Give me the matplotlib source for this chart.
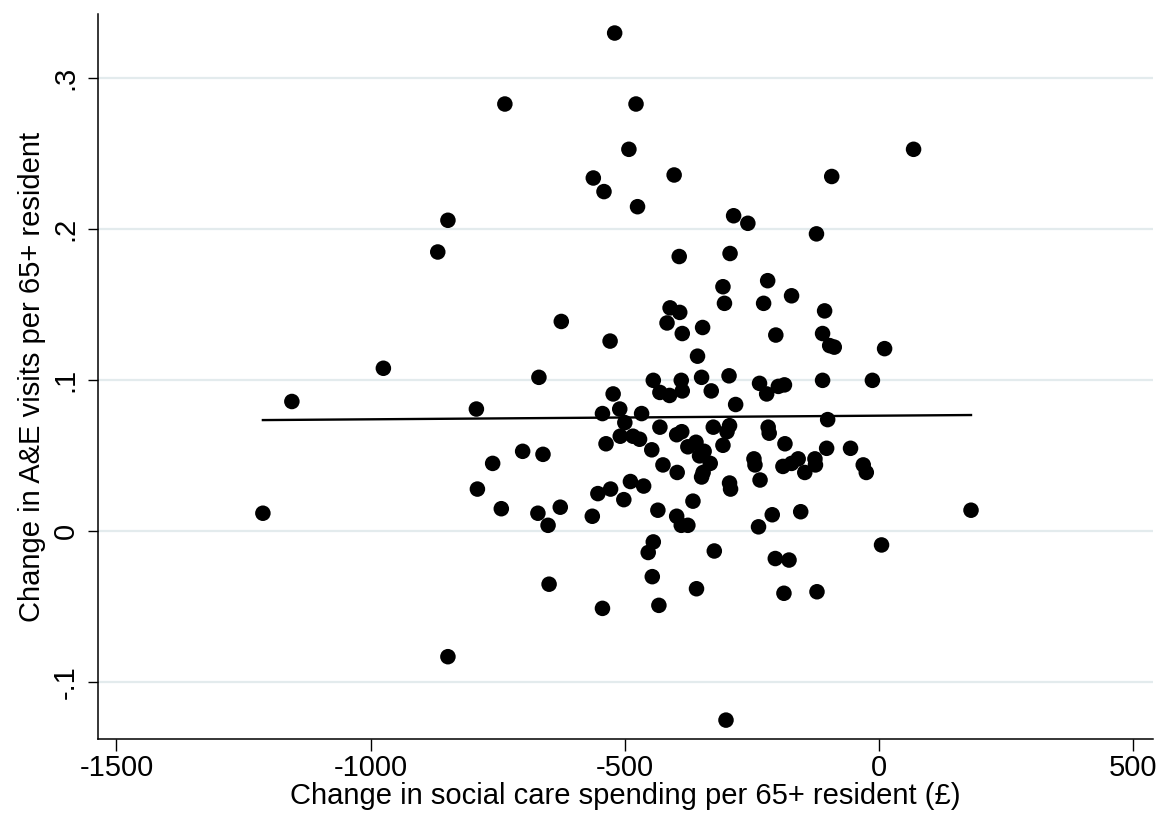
import matplotlib
matplotlib.use('Agg')
import numpy as np
import matplotlib.pyplot as plt

# change in social care spending per 65+ resident (GBP)
spend_change = [
    -520, -736, -478, -492, -562, -541, -403, -475, -93, 68,
    -848, -868, -286, -258, -123, -393, -293, -307, -219, -172,
    -304, -227, -411, -392, -107, -417, -387, -347, -203, -111,
    -88, -97, 11, -625, -529, -357, -975, -1155, -669, -444,
    -389, -349, -295, -235, -198, -186, -111, -13, -523, -431,
    -412, -387, -330, -221, -282, -792, -544, -510, -467, -500,
    -101, -431, -326, -294, -299, -398, -388, -218, -216, -509,
    -484, -471, -537, -447, -376, -360, -344, -353, -332, -346,
    -349, -307, -185, -701, -661, -103, -56, -760, -425, -397,
    -246, -244, -126, -125, -159, -172, -189, -146, -31, -25,
    -234, -294, -292, -790, -489, -463, -528, -553, -502, -366,
    -743, -671, -627, -651, -564, -435, -398, -389, -376, -210,
    -154, -237, 181, -1212, 5, -444, -454, -324, -204, -177,
    -446, -649, -359, -187, -122, -544, -433, -848, -301,
]

# change in A&E visits per 65+ resident
ae_change = [
    0.330, 0.283, 0.283, 0.253, 0.234, 0.225, 0.236, 0.215, 0.235, 0.253,
    0.206, 0.185, 0.209, 0.204, 0.197, 0.182, 0.184, 0.162, 0.166, 0.156,
    0.151, 0.151, 0.148, 0.145, 0.146, 0.138, 0.131, 0.135, 0.130, 0.131,
    0.122, 0.123, 0.121, 0.139, 0.126, 0.116, 0.108, 0.086, 0.102, 0.100,
    0.100, 0.102, 0.103, 0.098, 0.096, 0.097, 0.100, 0.100, 0.091, 0.092,
    0.090, 0.093, 0.093, 0.091, 0.084, 0.081, 0.078, 0.081, 0.078, 0.072,
    0.074, 0.069, 0.069, 0.070, 0.066, 0.064, 0.066, 0.069, 0.065, 0.063,
    0.063, 0.061, 0.058, 0.054, 0.056, 0.059, 0.053, 0.050, 0.045, 0.039,
    0.036, 0.057, 0.058, 0.053, 0.051, 0.055, 0.055, 0.045, 0.044, 0.039,
    0.048, 0.044, 0.048, 0.044, 0.048, 0.045, 0.043, 0.039, 0.044, 0.039,
    0.034, 0.032, 0.028, 0.028, 0.033, 0.030, 0.028, 0.025, 0.021, 0.020,
    0.015, 0.012, 0.016, 0.004, 0.010, 0.014, 0.010, 0.004, 0.004, 0.011,
    0.013, 0.003, 0.014, 0.012, -0.009, -0.007, -0.014, -0.013, -0.018, -0.019,
    -0.030, -0.035, -0.038, -0.041, -0.040, -0.051, -0.049, -0.083, -0.125,
]

# linear fit as drawn in the source chart
fit_intercept = 0.0766
fit_slope = 2.4e-6

x_ticks = [-1500, -1000, -500, 0, 500]
y_ticks = [-0.1, 0, 0.1, 0.2, 0.3]
y_ticklabels = ['-.1', '0', '.1', '.2', '.3']


def main():
    plt.rcParams['font.family'] = ['Liberation Sans', 'DejaVu Sans']
    fig = plt.figure(figsize=(11.67, 8.24), dpi=100)
    ax = fig.add_axes([0.0837, 0.1028, 0.9043, 0.8802])

    x = np.array(spend_change, dtype=float)
    y = np.array(ae_change, dtype=float)

    ax.scatter(x, y, s=125, color='black', edgecolors='none', zorder=3)

    xf = np.array([x.min(), x.max()])
    ax.plot(xf, fit_intercept + fit_slope * xf, color='black', lw=1.7, zorder=4)

    ax.set_xlim(-1537, 539)
    ax.set_ylim(-0.1377, 0.3426)
    ax.set_xticks(x_ticks)
    ax.set_xticklabels([str(t) for t in x_ticks])
    ax.set_yticks(y_ticks)
    ax.set_yticklabels(y_ticklabels, rotation=90, va='center')

    ax.yaxis.grid(True, color='#e3ebed', lw=1.6, zorder=0)
    ax.set_axisbelow(True)
    for side in ['top', 'right']:
        ax.spines[side].set_visible(False)
    for side in ['left', 'bottom']:
        ax.spines[side].set_linewidth(1.1)

    ax.tick_params(axis='both', width=1.0, labelsize=21)
    ax.tick_params(axis='x', length=8.3, pad=2)
    ax.tick_params(axis='y', length=7, pad=6)

    ax.set_xlabel('Change in social care spending per 65+ resident (£)', fontsize=21, labelpad=0)
    ax.set_ylabel('Change in A&E visits per 65+ resident', fontsize=21, labelpad=4)

    fig.savefig('out.png', dpi=100, facecolor='white')
    plt.close(fig)


if __name__ == '__main__':
    main()
